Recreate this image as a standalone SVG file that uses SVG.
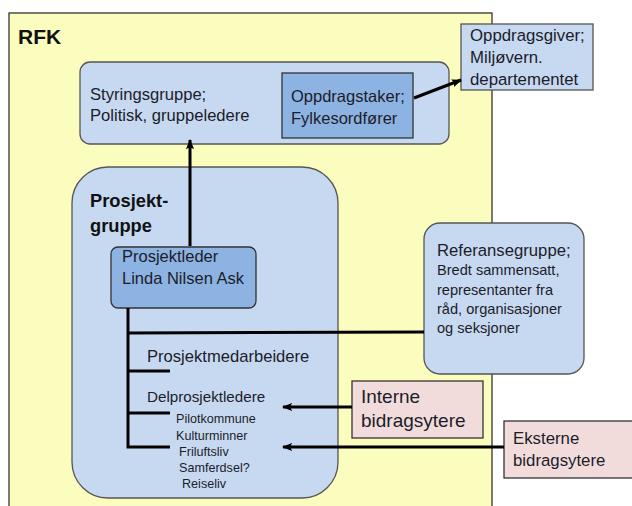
<svg xmlns="http://www.w3.org/2000/svg" width="632" height="506" viewBox="0 0 632 506">
<style>
text{font-family:"Liberation Sans",Arial,sans-serif;fill:#1c1c2a}
.b{font-weight:bold;fill:#111}
.lb{fill:#c6d9f1;stroke:#555;stroke-width:1.3}
.db{fill:#8db3e2;stroke:#333;stroke-width:1.3}
.pk{fill:#f2dcdb;stroke:#333;stroke-width:1.3}
.ln{stroke:#000;stroke-width:3;fill:none}
</style>
<defs>
<marker id="ah" viewBox="0 0 10 8" refX="9" refY="4" markerWidth="3.4" markerHeight="2.8" orient="auto" markerUnits="strokeWidth">
<path d="M0,0 L10,4 L0,8 L2,4 z" fill="#000"/>
</marker>
</defs>
<g id="rfk">
<rect x="9" y="13" width="483" height="500" fill="#fbfdbf" stroke="#333" stroke-width="1.3"/>
<text class="b" x="18" y="44" font-size="21">RFK</text>
</g>
<g id="styringsgruppe">
<rect class="lb" x="80" y="62" width="369" height="82" rx="10"/>
<text x="90" y="100" font-size="16.6">Styringsgruppe;</text>
<text x="90" y="121" font-size="16.6">Politisk, gruppeledere</text>
</g>
<g id="oppdragstaker">
<rect class="db" x="282" y="73" width="131" height="65"/>
<text x="291" y="102" font-size="16.5">Oppdragstaker;</text>
<text x="291" y="124" font-size="16.5">Fylkesordfører</text>
</g>
<g id="oppdragsgiver">
<rect class="lb" x="461" y="24" width="132" height="66" stroke="#333"/>
<text x="470" y="41" font-size="16.8">Oppdragsgiver;</text>
<text x="470" y="63" font-size="16.8">Miljøvern.</text>
<text x="470" y="85" font-size="16.8">departementet</text>
</g>
<g id="prosjektgruppe">
<rect class="lb" x="72" y="167" width="266" height="331" rx="36"/>
<text class="b" x="90" y="207" font-size="18.3">Prosjekt-</text>
<text class="b" x="90" y="232" font-size="18.3">gruppe</text>
</g>
<g id="prosjektleder">
<rect class="db" x="111" y="247" width="145" height="61" rx="7"/>
<text x="122" y="262" font-size="16.5">Prosjektleder</text>
<text x="122" y="284" font-size="16.5">Linda Nilsen Ask</text>
</g>
<g id="medarbeidere">
<text x="147" y="362" font-size="16.6">Prosjektmedarbeidere</text>
</g>
<g id="delprosjektledere">
<text x="147" y="402" font-size="15.2">Delprosjektledere</text>
<text x="176" y="423" font-size="12.6">Pilotkommune</text>
<text x="176" y="440" font-size="12.6">Kulturminner</text>
<text x="179" y="456" font-size="12.6">Friluftsliv</text>
<text x="179" y="472" font-size="12.6">Samferdsel?</text>
<text x="182" y="488" font-size="12.6">Reiseliv</text>
</g>
<g id="referansegruppe">
<rect class="lb" x="424" y="223" width="160" height="151" rx="16"/>
<text x="437" y="256" font-size="16.7">Referansegruppe;</text>
<text x="437" y="275" font-size="14.6">Bredt sammensatt,</text>
<text x="437" y="295" font-size="14.6">representanter fra</text>
<text x="437" y="314" font-size="14.6">råd, organisasjoner</text>
<text x="437" y="333" font-size="14.6">og seksjoner</text>
</g>
<g id="interne">
<rect class="pk" x="352" y="381" width="131" height="57"/>
<text x="361" y="403" font-size="19">Interne</text>
<text x="361" y="427" font-size="19">bidragsytere</text>
</g>
<g id="eksterne">
<rect class="pk" x="504" y="421" width="132" height="57"/>
<text x="513" y="444" font-size="16.8">Eksterne</text>
<text x="513" y="466" font-size="16.8">bidragsytere</text>
</g>
<g id="connectors">
<line class="ln" x1="190" y1="246" x2="190" y2="140" marker-end="url(#ah)"/>
<line class="ln" x1="414" y1="98" x2="461" y2="80" marker-end="url(#ah)"/>
<polyline class="ln" points="128,308 128,447 170,447"/>
<line class="ln" x1="128" y1="333" x2="424" y2="332"/>
<line class="ln" x1="128" y1="371" x2="170" y2="371"/>
<line class="ln" x1="128" y1="413" x2="170" y2="413"/>
<line class="ln" x1="352" y1="407" x2="283" y2="407" marker-end="url(#ah)"/>
<line class="ln" x1="504" y1="447" x2="283" y2="447" marker-end="url(#ah)"/>
</g>
</svg>
